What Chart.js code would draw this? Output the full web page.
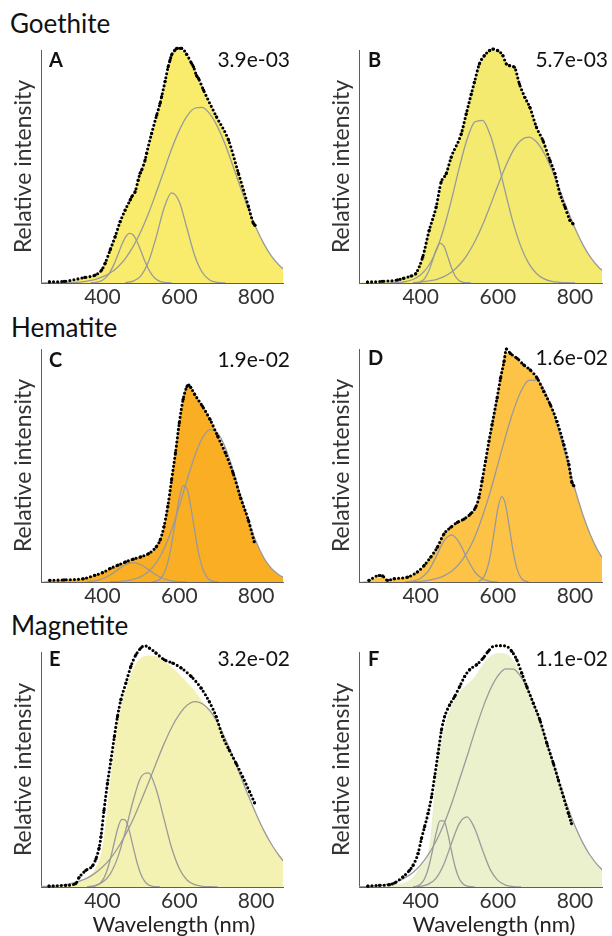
<!DOCTYPE html>
<html>
<head>
<meta charset="utf-8">
<script src="https://cdn.jsdelivr.net/npm/chart.js@4.4.1/dist/chart.umd.min.js"></script>
<style>
    body { margin: 0; width: 612px; height: 936px; position: relative; background: #fff; overflow: hidden; font-family: Lato, sans-serif; }
    canvas { position: absolute; }
    .lbl { position: absolute; line-height: 1; color: #111; white-space: nowrap; }
    .row { font-size: 26px; }
    .tag { font-size: 20px; font-weight: bold; }
    .num { font-size: 21px; text-align: right; width: 120px; }
    .xlab { font-size: 22px; text-align: center; width: 220px; color: #222; }
</style>
</head>
<body>
<div class="lbl row" style="left:10px; top:10px">Goethite</div>
<div class="lbl row" style="left:11px; top:314px">Hematite</div>
<div class="lbl row" style="left:11px; top:612px">Magnetite</div>

<canvas id="chA" width="300" height="271" style="left:0; top:40px"></canvas>
<canvas id="chB" width="294" height="271" style="left:318px; top:40px"></canvas>
<canvas id="chC" width="300" height="271" style="left:0; top:339px"></canvas>
<canvas id="chD" width="294" height="271" style="left:318px; top:339px"></canvas>
<canvas id="chE" width="300" height="273" style="left:0; top:642px"></canvas>
<canvas id="chF" width="294" height="273" style="left:318px; top:642px"></canvas>

<div class="lbl tag" style="left:49px; top:49px">A</div>
<div class="lbl tag" style="left:368px; top:49px">B</div>
<div class="lbl tag" style="left:49px; top:349px">C</div>
<div class="lbl tag" style="left:368px; top:347px">D</div>
<div class="lbl tag" style="left:49px; top:648px">E</div>
<div class="lbl tag" style="left:368px; top:648px">F</div>

<div class="lbl num" style="left:170px; top:48px">3.9e-03</div>
<div class="lbl num" style="left:488px; top:48px">5.7e-03</div>
<div class="lbl num" style="left:170px; top:348px">1.9e-02</div>
<div class="lbl num" style="left:488px; top:346px">1.6e-02</div>
<div class="lbl num" style="left:170px; top:647px">3.2e-02</div>
<div class="lbl num" style="left:488px; top:647px">1.1e-02</div>

<div class="lbl xlab" style="left:64px; top:913px">Wavelength (nm)</div>
<div class="lbl xlab" style="left:384px; top:913px">Wavelength (nm)</div>

<script>
const xMin = 240, xMax = 870;
const xTicks = [400, 600, 800];

// ===== A: Goethite =====
const aWl  = [262, 300, 354, 381, 398, 407, 420, 433, 446, 459, 472, 476, 485, 493, 498, 502, 511, 515, 528, 541, 550, 554, 563, 571, 576, 580, 589, 593, 602, 606, 619, 632, 637, 645, 650, 663, 697, 728, 754, 780, 793, 797];
const aInt = [.005, .007, .024, .034, .056, .085, .142, .199, .263, .313, .356, .37, .392, .442, .471, .485, .528, .557, .642, .72, .771, .80, .865, .928, .957, .979, 1.0, 1.007, 1.007, 1.007, .982, .943, .928, .89, .878, .828, .713, .614, .471, .328, .256, .248];
const aFill = [0, .004, .005, .007, .010, .016, .025, .033, .06, .14, .232, .316, .38, .478, .58, .715, .845, .975, 1.0, .978, .915, .838, .77, .70, .64, .545, .44, .325, .236, .169, .115, .076, .048];
const aPeak1 = [.001, .002, .005, .012, .025, .048, .080, .120, .163, .197, .213, .206, .178, .138, .095, .059, .033, .016, .007, .003, .001, 0];
const aPeak2 = [.002, .008, .031, .092, .198, .320, .387, .349, .235, .118, .045, .012, .003, 0];
const aPeak3 = [0, 0, 0, .001, .002, .004, .008, .015, .026, .043, .069, .106, .157, .221, .299, .388, .481, .575, .655, .716, .750, .754, .725, .669, .592, .501, .407, .317, .236, .169, .115, .076, .048];

// ===== B: Goethite =====
const bWl  = [262, 300, 340, 355, 375, 387, 405, 422, 440, 453, 466, 479, 505, 518, 531, 539, 552, 565, 578, 587, 600, 613, 622, 630, 643, 656, 670, 683, 700, 717, 735, 748, 761, 774, 787, 795];
const bInt = [.004, .007, .013, .02, .03, .04, .111, .226, .326, .433, .469, .54, .64, .726, .811, .861, .94, .976, .997, 1.004, .997, .976, .94, .933, .926, .854, .797, .754, .669, .611, .526, .469, .383, .326, .269, .254];
const bFill = [0, .003, .005, .007, .009, .013, .02, .032, .09, .215, .326, .452, .54, .62, .74, .865, .96, .997, .997, .945, .928, .84, .764, .669, .60, .505, .39, .30, .24, .166, .111, .07, .042];
const bPeak1 = [.001, .006, .019, .048, .093, .143, .170, .158, .114, .064, .028, .010, .003, .001, 0];
const bPeak2 = [.001, .002, .006, .015, .035, .073, .137, .235, .359, .495, .616, .691, .698, .636, .522, .386, .257, .155, .084, .041, .018, .007, .003, .001, 0];
const bPeak3 = [.002, .004, .009, .015, .027, .047, .077, .120, .177, .248, .331, .418, .500, .569, .613, .626, .606, .557, .486, .401, .316, .235, .166, .111, .070, .042];

// ===== C: Hematite =====
const cWl  = [263, 300, 350, 380, 400, 420, 440, 460, 480, 500, 520, 540, 550, 560, 570, 580, 590, 600, 610, 620, 625, 630, 640, 660, 680, 700, 720, 740, 760, 780, 795];
const cInt = [.007, .009, .014, .029, .04, .058, .072, .086, .098, .108, .122, .151, .18, .237, .324, .439, .554, .683, .784, .839, .845, .835, .806, .755, .698, .626, .554, .468, .36, .265, .173];
const cFill = [0, .006, .008, .009, .011, .013, .018, .029, .04, .058, .072, .086, .098, .108, .122, .151, .237, .439, .683, .839, .806, .755, .698, .626, .554, .468, .36, .265, .173, .104, .058, .030, .014];
const cPeak1 = [.001, .005, .014, .030, .053, .074, .083, .074, .053, .030, .014, .005, .001, 0];
const cPeak2 = [.001, .004, .013, .036, .084, .162, .263, .360, .414, .400, .324, .221, .127, .061, .025, .008, .003, .001];
const cPeak3 = [.001, .002, .005, .011, .023, .045, .083, .142, .224, .326, .437, .540, .618, .654, .639, .576, .480, .369, .263, .173, .104, .058, .030, .014];

// ===== D: Hematite =====
const dWl  = [266, 292, 301, 314, 331, 366, 391, 409, 426, 443, 460, 478, 495, 512, 529, 542, 551, 559, 568, 577, 585, 598, 607, 616, 622, 633, 650, 667, 684, 702, 719, 736, 753, 771, 784, 792, 797];
const dInt = [.007, .028, .026, .007, .014, .021, .043, .071, .107, .149, .206, .235, .256, .27, .292, .32, .363, .434, .519, .605, .676, .79, .875, .946, 1.0, .98, .96, .932, .91, .875, .818, .761, .69, .59, .505, .427, .413];
const dFill = [0, .005, .015, .02, .01, .015, .02, .033, .056, .095, .142, .206, .237, .26, .28, .315, .44, .63, .81, .985, .97, .94, .915, .878, .815, .745, .65, .525, .405, .291, .202, .133, .083];
const dPeak1 = [.001, .004, .016, .048, .109, .175, .202, .169, .102, .044, .014, .003, 0];
const dPeak2 = [.003, .014, .045, .110, .211, .315, .366, .331, .233, .128, .055, .018, .005, .001];
const dPeak3 = [.001, .003, .007, .014, .026, .046, .078, .126, .192, .281, .386, .505, .625, .734, .819, .865, .867, .825, .744, .637, .517, .398, .291, .202, .133, .083];

// ===== E: Magnetite =====
const eWl  = [261, 304, 330, 339, 357, 374, 383, 391, 396, 404, 413, 422, 431, 439, 448, 461, 474, 487, 500, 509, 522, 539, 561, 583, 605, 631, 657, 678, 696, 713, 730, 748, 765, 783, 796];
const eInt = [.004, .007, .014, .04, .071, .09, .12, .165, .213, .327, .441, .54, .64, .725, .797, .868, .939, .988, 1.017, 1.027, 1.017, .996, .967, .953, .932, .896, .846, .789, .725, .64, .583, .526, .469, .405, .358];
const eFill = [0, .003, .005, .009, .015, .025, .042, .075, .17, .45, .70, .835, .93, .975, .984, .982, .96, .937, .905, .87, .835, .79, .752, .698, .630, .553, .470, .388, .311, .241, .182, .133, .094];
const ePeak1 = [.001, .004, .011, .028, .062, .116, .184, .250, .288, .284, .238, .170, .104, .054, .024, .009, .003, .001, 0];
const ePeak2 = [.001, .006, .020, .055, .127, .239, .368, .467, .486, .415, .291, .167, .079, .030, .010, .003, .001, 0];
const ePeak3 = [.002, .003, .005, .009, .015, .025, .038, .058, .085, .120, .166, .223, .288, .365, .445, .528, .608, .679, .735, .773, .789, .780, .750, .698, .630, .553, .470, .388, .311, .241, .182, .133, .094];

// ===== F: Magnetite =====
const fWl  = [263, 293, 319, 332, 354, 371, 380, 393, 402, 410, 419, 428, 436, 445, 454, 462, 475, 488, 501, 514, 527, 545, 562, 575, 588, 606, 623, 636, 649, 662, 675, 692, 709, 727, 744, 757, 770, 783, 791];
const fInt = [.004, .007, .01, .017, .043, .071, .092, .142, .206, .256, .313, .384, .469, .569, .669, .725, .775, .811, .853, .896, .925, .946, .974, 1.003, 1.024, 1.027, 1.024, 1.003, .967, .91, .853, .782, .711, .612, .526, .455, .384, .313, .27];
const fFill = [0, .002, .004, .006, .008, .012, .02, .04, .09, .15, .47, .67, .77, .83, .862, .895, .945, .982, .996, .994, .965, .905, .83, .748, .65, .55, .445, .35, .262, .19, .133, .091, .059];
const fPeak1 = [.001, .004, .013, .035, .081, .151, .229, .281, .281, .229, .151, .081, .035, .013, .004, .001, 0];
const fPeak2 = [0, .003, .012, .038, .097, .187, .270, .298, .249, .158, .075, .028, .008, .002, 0];
const fPeak3 = [.001, .002, .005, .008, .014, .024, .040, .062, .094, .139, .196, .267, .354, .454, .555, .660, .757, .839, .898, .928, .927, .894, .832, .747, .649, .544, .441, .345, .260, .189, .133, .091, .059];

// ===== helpers =====
function curve(start, step, vals) {
    return vals.map((v, i) => ({ x: start + i * step, y: v }));
}

function pairs(xs, ys) {
    return xs.map((x, i) => ({ x, y: ys[i] }));
}

function dibujarPanel(id, p) {
    const datasets = [{
        data: pairs(p.wl, p.int),
        showLine: true,
        borderColor: '#000',
        borderWidth: 3.1,
        borderDash: [0, 4.1],
        borderCapStyle: 'round',
        pointRadius: 1.6,
        pointBackgroundColor: '#000',
        pointBorderWidth: 0,
        cubicInterpolationMode: 'monotone',
        fill: false,
        clip: false,
        order: 0
    }];
    p.peaks.forEach(pk => datasets.push({
        data: curve(pk[0], pk[1], pk[2]),
        borderColor: '#9a9a9a',
        borderWidth: 1.3,
        pointRadius: 0,
        cubicInterpolationMode: 'monotone',
        fill: false,
        order: 1
    }));
    datasets.push({
        data: curve(240, 20, p.fill),
        borderColor: 'rgba(0,0,0,0)',
        borderWidth: 0,
        backgroundColor: p.color,
        pointRadius: 0,
        cubicInterpolationMode: 'monotone',
        fill: 'origin',
        order: 2
    });

    new Chart(document.getElementById(id), {
        type: 'line',
        data: { datasets },
        options: {
            responsive: false,
            animation: false,
            events: [],
            layout: { padding: { top: 10, right: p.padRight, left: 0, bottom: 0 } },
            plugins: { legend: { display: false }, tooltip: { enabled: false } },
            scales: {
                x: {
                    type: 'linear', min: xMin, max: xMax,
                    afterBuildTicks: s => { s.ticks = xTicks.map(v => ({ value: v })); },
                    afterFit: s => { s.height = 28; },
                    grid: { display: false, drawTicks: false },
                    border: { display: true, color: '#5e5e5e', width: 1 },
                    ticks: { color: '#333', font: { family: 'Lato', size: 21 }, padding: 2, maxRotation: 0 }
                },
                y: {
                    min: 0, max: 1,
                    afterFit: s => { s.width = 41; },
                    grid: { display: false, drawTicks: false },
                    border: { display: true, color: '#5e5e5e', width: 1 },
                    ticks: { display: false },
                    title: {
                        display: true, text: 'Relative intensity', color: '#333',
                        font: { family: 'Lato', size: 23 }, padding: { top: 10, bottom: 0 }
                    }
                }
            }
        }
    });
}

dibujarPanel('chA', { wl: aWl, int: aInt, fill: aFill, color: '#f9ec6d', padRight: 17,
    peaks: [[370, 10, aPeak1], [460, 20, aPeak2], [240, 20, aPeak3]] });
dibujarPanel('chB', { wl: bWl, int: bInt, fill: bFill, color: '#f4ea70', padRight: 10,
    peaks: [[390, 10, bPeak1], [320, 20, bPeak2], [380, 20, bPeak3]] });
dibujarPanel('chC', { wl: cWl, int: cInt, fill: cFill, color: '#f9ae24', padRight: 17,
    peaks: [[360, 20, cPeak1], [530, 10, cPeak2], [420, 20, cPeak3]] });
dibujarPanel('chD', { wl: dWl, int: dInt, fill: dFill, color: '#fdc347', padRight: 10,
    peaks: [[360, 20, dPeak1], [550, 10, dPeak2], [380, 20, dPeak3]] });
dibujarPanel('chE', { wl: eWl, int: eInt, fill: eFill, color: '#f4f2b2', padRight: 17,
    peaks: [[370, 10, ePeak1], [360, 20, ePeak2], [240, 20, ePeak3]] });
dibujarPanel('chF', { wl: fWl, int: fInt, fill: fFill, color: '#ecf1cd', padRight: 10,
    peaks: [[380, 10, fPeak1], [380, 20, fPeak2], [240, 20, fPeak3]] });
</script>
</body>
</html>
